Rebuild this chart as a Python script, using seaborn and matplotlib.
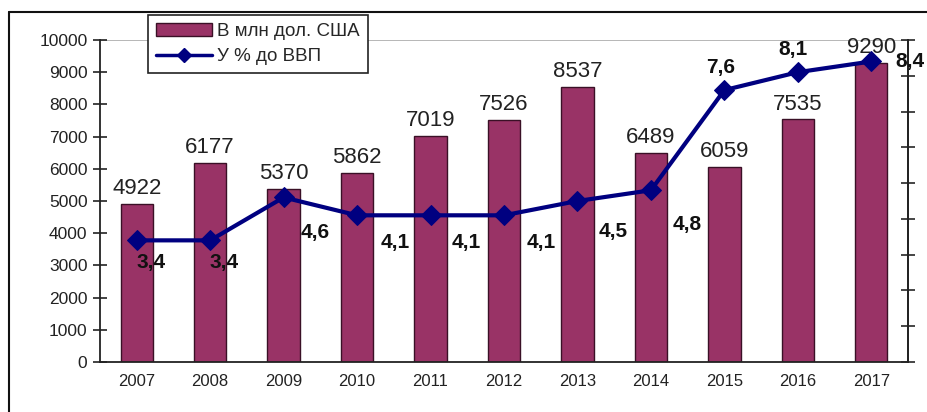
import pandas as pd
import numpy as np
import matplotlib.pyplot as plt
import seaborn as sns
from matplotlib.lines import Line2D
from matplotlib.patches import Patch

# ---- дані ----
years = ["2007", "2008", "2009", "2010", "2011", "2012", "2013", "2014", "2015", "2016", "2017"]
usd_mln = [4922, 6177, 5370, 5862, 7019, 7526, 8537, 6489, 6059, 7535, 9290]
pct_gdp = [3.4, 3.4, 4.6, 4.1, 4.1, 4.1, 4.5, 4.8, 7.6, 8.1, 8.4]
pct_labels = ["3,4", "3,4", "4,6", "4,1", "4,1", "4,1", "4,5", "4,8", "7,6", "8,1", "8,4"]

BAR_COLOR = "#993366"
LINE_COLOR = "#000080"

sns.set_style("white")
plt.rcParams['font.family'] = ['Liberation Sans', 'DejaVu Sans']

df = pd.DataFrame({"year": years, "usd": usd_mln, "pct": pct_gdp, "pos": np.arange(len(years))})

fig = plt.figure(figsize=(9.28, 4.12), dpi=100)
ax = fig.add_axes([100 / 928, 50 / 412, 808 / 928, 322 / 412])

sns.barplot(data=df, x="year", y="usd", color=BAR_COLOR, width=0.44,
            edgecolor="#3a1026", linewidth=1, saturation=1, ax=ax)
ax.set_xlim(-0.5, len(years) - 0.5)
ax.set_ylim(0, 10000)
ax.set_yticks(range(0, 10001, 1000))
ax.set_xlabel("")
ax.set_ylabel("")
ax.axhline(10000, color="#aaaaaa", lw=1.2, zorder=0)

ax.spines["top"].set_visible(False)
for s in ["left", "bottom", "right"]:
    ax.spines[s].set_color("#222222")
    ax.spines[s].set_linewidth(1.3)

ax.tick_params(axis="y", direction="inout", length=10, width=1.2, labelsize=12.5,
               colors="#222222", pad=4)
ax.tick_params(axis="x", which="major", length=0, labelsize=12, pad=9, colors="#222222")
ax.set_xticks(np.arange(-0.5, len(years), 1), minor=True)
ax.tick_params(axis="x", which="minor", direction="out", length=6, width=1.2)

# підписи стовпців
for i, v in enumerate(usd_mln):
    ax.text(i, v + 150, str(v), ha="center", va="bottom", fontsize=16, color="#222222")

# права вісь
ax2 = ax.twinx()
sns.lineplot(data=df, x="pos", y="pct", color=LINE_COLOR, lw=3, marker="D",
             markersize=10, markeredgecolor=LINE_COLOR, ax=ax2, zorder=5)
ax2.set_ylim(0, 9)
ax2.set_yticks(range(0, 10))
ax2.set_yticklabels([""] * 10)
ax2.set_ylabel("")
ax2.set_xlabel("")
ax2.tick_params(axis="y", direction="inout", length=10, width=1.2)
for s in ["top", "left", "bottom"]:
    ax2.spines[s].set_visible(False)
ax2.spines["right"].set_color("#222222")
ax2.spines["right"].set_linewidth(1.3)

# підписи відсотків (зміщення в пікселях)
offsets = [(14, -22), (14, -22), (32, -35), (38, -27), (36, -27), (37, -27),
           (36, -31), (36, -34), (-4, 23), (-5, 23), (39, 0)]
for i, (p, lab) in enumerate(zip(pct_gdp, pct_labels)):
    dx, dy = offsets[i]
    ax2.annotate(lab, (i, p), xytext=(dx, dy), textcoords="offset pixels",
                 ha="center", va="center", fontsize=15, fontweight="bold", color="#111111")

# легенда
handles = [Patch(facecolor=BAR_COLOR, edgecolor="#3a1026"),
           Line2D([0], [0], color=LINE_COLOR, lw=2.5, marker="D", markersize=7)]
leg = fig.legend(handles, ["В млн дол. США", "У % до ВВП"], loc="upper left",
                 bbox_to_anchor=(148 / 928, 1 - 15 / 412), borderaxespad=0,
                 fontsize=13.5, frameon=True, fancybox=False, framealpha=1,
                 edgecolor="#222222", borderpad=0.4, handlelength=3.0,
                 labelspacing=0.45, handletextpad=0.3)
leg.get_frame().set_linewidth(1.2)

# зовнішня рамка
fig.add_artist(Line2D([9 / 928, 9 / 928], [0, 1 - 12 / 412], color="#111111", lw=1.5))
fig.add_artist(Line2D([9 / 928, 1], [1 - 12 / 412, 1 - 12 / 412], color="#111111", lw=1.5))

fig.savefig("out.png", dpi=100)
